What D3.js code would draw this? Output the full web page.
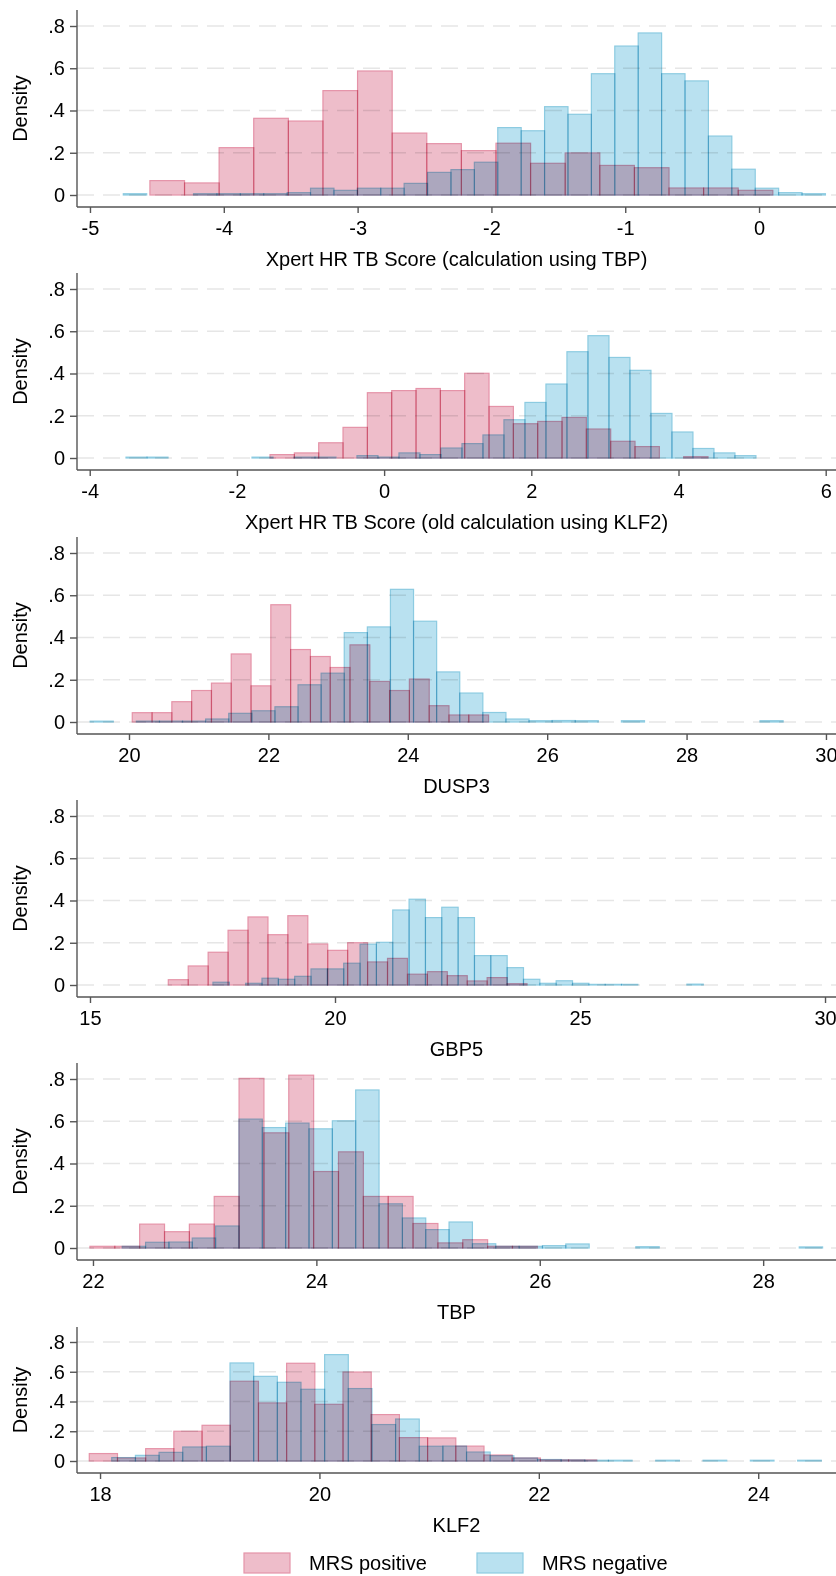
<!DOCTYPE html>
<html>
<head>
<meta charset="utf-8">
<script src="https://cdn.jsdelivr.net/npm/d3@7"></script>
<style>
  body { margin: 0; background: #fff; }
  svg { display: block; font-family: "Helvetica Neue", Helvetica, Arial, "Liberation Sans", sans-serif; }
  .bar { mix-blend-mode: multiply; }
</style>
</head>
<body>
<script>
// densities per bin; bins = [first edge, bin width]
var titles = ["Xpert HR TB Score (calculation using TBP)", "Xpert HR TB Score (old calculation using KLF2)",
              "DUSP3", "GBP5", "TBP", "KLF2"];
var legendLabels = ["MRS positive", "MRS negative"];
var yTicks = [0, .2, .4, .6, .8];

var tbpScoreTicks = [-5, -4, -3, -2, -1, 0],
    tbpScoreRange = [-5.097, 0.575],
    tbpScorePosBins = [-4.552, 0.2586],
    tbpScorePos = [0.068, 0.057, 0.224, 0.363, 0.350, 0.494, 0.587, 0.293, 0.243, 0.210, 0.245, 0.150, 0.199, 0.140, 0.129, 0.033, 0.033, 0.022],
    tbpScoreNegBins = [-4.751, 0.1749],
    tbpScoreNeg = [0.006, 0, 0, 0.006, 0.006, 0.006, 0.006, 0.011, 0.032, 0.022, 0.032, 0.032, 0.055, 0.107, 0.120, 0.155, 0.319, 0.304, 0.418, 0.382, 0.574, 0.705, 0.767, 0.574, 0.540, 0.279, 0.122, 0.032, 0.011, 0.006];

var klfScoreTicks = [-4, -2, 0, 2, 4, 6],
    klfScoreRange = [-4.173, 6.140],
    klfScorePosBins = [-1.550, 0.3306],
    klfScorePos = [0.016, 0.024, 0.072, 0.145, 0.309, 0.319, 0.329, 0.319, 0.401, 0.244, 0.162, 0.173, 0.192, 0.137, 0.079, 0.054, 0, 0.006],
    klfScoreNegBins = [-3.507, 0.2853],
    klfScoreNeg = [0.004, 0.004, 0, 0, 0, 0, 0.004, 0, 0.004, 0.004, 0, 0.011, 0.004, 0.024, 0.016, 0.047, 0.068, 0.109, 0.181, 0.263, 0.350, 0.503, 0.579, 0.476, 0.415, 0.211, 0.123, 0.045, 0.024, 0.011];

var dusp3Ticks = [20, 22, 24, 26, 28, 30],
    dusp3Range = [19.254, 30.144],
    dusp3PosBins = [20.047, 0.284],
    dusp3Pos = [0.044, 0.044, 0.096, 0.149, 0.184, 0.322, 0.171, 0.555, 0.343, 0.310, 0.258, 0.365, 0.192, 0.149, 0.203, 0.077, 0.033, 0.033],
    dusp3NegBins = [19.443, 0.3314],
    dusp3Neg = [0.004, 0, 0.004, 0.004, 0.004, 0.014, 0.041, 0.053, 0.072, 0.176, 0.231, 0.423, 0.450, 0.628, 0.477, 0.237, 0.137, 0.045, 0.014, 0.006, 0.007, 0.006, 0, 0.006, 0, 0, 0, 0, 0, 0.006];

var gbp5Ticks = [15, 20, 25, 30],
    gbp5Range = [14.735, 30.224],
    gbp5PosBins = [16.598, 0.4067],
    gbp5Pos = [0.025, 0.090, 0.155, 0.259, 0.322, 0.238, 0.328, 0.194, 0.164, 0.200, 0.109, 0.126, 0.051, 0.063, 0.044, 0.019, 0.035, 0.006],
    gbp5NegBins = [17.51, 0.3335],
    gbp5Neg = [0.013, 0, 0.008, 0.032, 0.027, 0.041, 0.076, 0.076, 0.103, 0.193, 0.202, 0.355, 0.406, 0.319, 0.368, 0.319, 0.139, 0.139, 0.082, 0.027, 0.008, 0.020, 0.008, 0.003, 0.003, 0.003, 0, 0, 0, 0.004];

var tbpTicks = [22, 24, 26, 28],
    tbpRange = [21.857, 28.652],
    tbpPosBins = [21.973, 0.2225],
    tbpPos = [0.008, 0.008, 0.113, 0.077, 0.113, 0.244, 0.803, 0.545, 0.818, 0.362, 0.455, 0.244, 0.244, 0.116, 0.024, 0.039, 0.008, 0.008],
    tbpNegBins = [22.262, 0.209],
    tbpNeg = [0.008, 0.027, 0.028, 0.047, 0.104, 0.610, 0.570, 0.591, 0.564, 0.602, 0.748, 0.209, 0.142, 0.087, 0.123, 0.020, 0.008, 0.008, 0.011, 0.019, 0, 0, 0.006, 0, 0, 0, 0, 0, 0, 0.005];

var klf2Ticks = [18, 20, 22, 24],
    klf2Range = [17.79, 24.709],
    klf2PosBins = [17.902, 0.257],
    klf2Pos = [0.050, 0.020, 0.083, 0.200, 0.240, 0.536, 0.390, 0.657, 0.381, 0.598, 0.312, 0.157, 0.155, 0.100, 0.040, 0.020, 0.007, 0.007],
    klf2NegBins = [18.107, 0.2156],
    klf2Neg = [0.023, 0.038, 0.058, 0.094, 0.099, 0.659, 0.569, 0.529, 0.482, 0.715, 0.487, 0.245, 0.282, 0.099, 0.100, 0.060, 0.035, 0.020, 0.010, 0.007, 0.005, 0.005, 0, 0.005, 0, 0.005, 0, 0.005, 0, 0.005];

var panels = [
  { ticks: tbpScoreTicks, range: tbpScoreRange, pos: tbpScorePos, posBins: tbpScorePosBins, neg: tbpScoreNeg, negBins: tbpScoreNegBins },
  { ticks: klfScoreTicks, range: klfScoreRange, pos: klfScorePos, posBins: klfScorePosBins, neg: klfScoreNeg, negBins: klfScoreNegBins },
  { ticks: dusp3Ticks, range: dusp3Range, pos: dusp3Pos, posBins: dusp3PosBins, neg: dusp3Neg, negBins: dusp3NegBins },
  { ticks: gbp5Ticks, range: gbp5Range, pos: gbp5Pos, posBins: gbp5PosBins, neg: gbp5Neg, negBins: gbp5NegBins },
  { ticks: tbpTicks, range: tbpRange, pos: tbpPos, posBins: tbpPosBins, neg: tbpNeg, negBins: tbpNegBins },
  { ticks: klf2Ticks, range: klf2Range, pos: klf2Pos, posBins: klf2PosBins, neg: klf2Neg, negBins: klf2NegBins }
];

var W = 836, H = 1576,
    left = 77,
    zeros = [195, 458, 722, 985, 1248, 1461],
    heights = [169, 169, 169, 169, 169, 119],
    axisColor = "#555",
    pinkFill = "#eebdca", pinkLine = "#e593a8",
    blueFill = "#b9e1f0", blueLine = "#8ccbe1";

var svg = d3.select("body").append("svg")
  .attr("width", W).attr("height", H);

svg.append("rect").attr("width", W).attr("height", H).attr("fill", "#fff");

var yFmt = function(d) { return d === 0 ? "0" : d3.format(".1f")(d).replace(/^0/, ""); };

panels.forEach(function(p, k) {
  var zero = zeros[k], h = heights[k],
      top = zero - h - (k === 5 ? 15 : 16),
      base = zero + 12;

  var x = d3.scaleLinear().domain(p.range).range([left, W]);
  var y = d3.scaleLinear().domain([0, .8]).range([zero, zero - h]);

  var g = svg.append("g");

  g.selectAll("line.grid")
    .data(yTicks)
    .enter().append("line")
    .attr("class", "grid")
    .attr("x1", left).attr("x2", W)
    .attr("y1", function(d) { return y(d); })
    .attr("y2", function(d) { return y(d); })
    .attr("stroke", "#e6e6e6")
    .attr("stroke-width", 1.5)
    .attr("stroke-dasharray", "17,9");

  [[p.pos, p.posBins, pinkFill, pinkLine], [p.neg, p.negBins, blueFill, blueLine]].forEach(function(s) {
    var bins = s[1];
    var rows = s[0].map(function(v, i) {
      return { v: v, x0: bins[0] + i * bins[1], x1: bins[0] + (i + 1) * bins[1] };
    }).filter(function(d) { return d.v > 0; });

    g.selectAll(null)
      .data(rows)
      .enter().append("rect")
      .attr("class", "bar")
      .attr("x", function(d) { return x(d.x0); })
      .attr("width", function(d) { return x(d.x1) - x(d.x0); })
      .attr("y", function(d) { return y(d.v); })
      .attr("height", function(d) { return zero - y(d.v); })
      .attr("fill", s[2])
      .attr("stroke", s[3])
      .attr("stroke-width", 1.2);
  });

  // axes
  var ya = g.append("g")
    .attr("transform", "translate(" + left + ",0)")
    .call(d3.axisLeft(y).tickValues(yTicks).tickFormat(yFmt).tickSize(7).tickPadding(5));
  var xa = g.append("g")
    .attr("transform", "translate(0," + base + ")")
    .call(d3.axisBottom(x).tickValues(p.ticks).tickFormat(function(d) { return String(d); }).tickSize(6).tickPadding(8));

  [ya, xa].forEach(function(a) {
    a.select(".domain").remove();
    a.attr("font-size", 20).attr("font-family", null);
    a.selectAll("line").attr("stroke", axisColor).attr("stroke-width", 1.4);
    a.selectAll("text").attr("fill", "#000");
  });

  g.append("line")
    .attr("x1", left).attr("x2", left).attr("y1", top).attr("y2", base)
    .attr("stroke", axisColor).attr("stroke-width", 1.4);
  g.append("line")
    .attr("x1", left).attr("x2", W).attr("y1", base).attr("y2", base)
    .attr("stroke", axisColor).attr("stroke-width", 1.4);

  g.append("text")
    .attr("x", (left + W) / 2).attr("y", zero + 71)
    .attr("text-anchor", "middle").attr("font-size", 20)
    .text(titles[k]);

  g.append("text")
    .attr("transform", "translate(27," + (top + base) / 2 + ") rotate(-90)")
    .attr("text-anchor", "middle").attr("font-size", 20)
    .text("Density");
});

// legend
var legend = svg.append("g");
var lx = [244, 477];
legend.selectAll("rect")
  .data(legendLabels)
  .enter().append("rect")
  .attr("x", function(d, i) { return lx[i]; })
  .attr("y", 1553).attr("width", 46).attr("height", 20)
  .attr("fill", function(d, i) { return i ? blueFill : pinkFill; })
  .attr("stroke", function(d, i) { return i ? blueLine : pinkLine; })
  .attr("stroke-width", 1.2);
legend.selectAll("text")
  .data(legendLabels)
  .enter().append("text")
  .attr("x", function(d, i) { return lx[i] + 65; })
  .attr("y", 1570)
  .attr("font-size", 20)
  .text(function(d) { return d; });
</script>
</body>
</html>
